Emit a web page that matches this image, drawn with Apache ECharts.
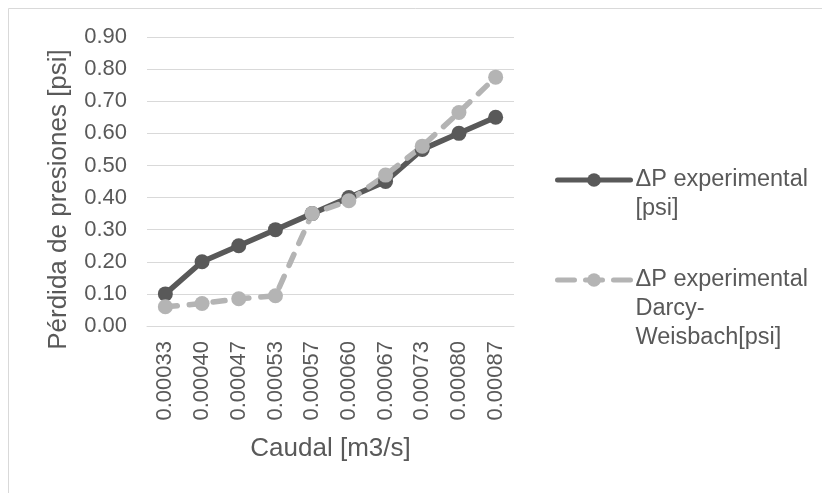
<!DOCTYPE html>
<html>
<head>
<meta charset="utf-8">
<script src="https://cdn.jsdelivr.net/npm/echarts@6/dist/echarts.min.js"></script>
<style>
html,body{margin:0;padding:0;background:#fff;}
#chart{width:822px;height:493px;}
</style>
</head>
<body>
<div id="chart"></div>
<script>
const categories = ['0.00033','0.00040','0.00047','0.00053','0.00057','0.00060','0.00067','0.00073','0.00080','0.00087'];
const experimental = [0.10, 0.20, 0.25, 0.30, 0.35, 0.40, 0.45, 0.55, 0.60, 0.65];
const darcy = [0.06, 0.07, 0.085, 0.094, 0.35, 0.39, 0.47, 0.56, 0.665, 0.775];
const seriesNames = ['ΔP experimental [psi]', 'ΔP experimental Darcy-Weisbach[psi]'];
const legendLines = [['ΔP experimental', '[psi]'], ['ΔP experimental', 'Darcy-', 'Weisbach[psi]']];
const yAxisTitle = 'Pérdida de presiones [psi]';
const xAxisTitle = 'Caudal [m3/s]';

const FONT = 'Liberation Sans, Arial, sans-serif';
const TXT = '#595959';
const DARK = '#595959';
const LIGHT = '#b4b4b4';
const LH = 29;
const LEG_FS = 23.5;

// prepend (n-1) blank lines so the first text line sits level with the legend icon
function legendText(lines) {
  return new Array(lines.length - 1).fill('').concat(lines).join('\n');
}
function legendTop(lines, iconCenter) {
  return iconCenter - (2 * lines.length - 1) * LH / 2;
}

const chart = echarts.init(document.getElementById('chart'), null, {renderer: 'canvas'});
chart.setOption({
  animation: false,
  backgroundColor: '#ffffff',
  graphic: [{
    type: 'rect', silent: true,
    shape: {x: 8.5, y: 8.5, width: 900, height: 600},
    style: {fill: 'none', stroke: '#d9d9d9', lineWidth: 1}
  }],
  grid: {left: 147, right: 308, top: 37, bottom: 167, containLabel: false},
  legend: [
    {
      left: 555, top: legendTop(legendLines[0], 180), orient: 'vertical', padding: 0,
      itemWidth: 73, itemHeight: 17, itemGap: 0,
      data: [seriesNames[0]],
      formatter: function () { return legendText(legendLines[0]); },
      lineStyle: {width: 5},
      textStyle: {fontFamily: FONT, fontSize: LEG_FS, color: TXT, lineHeight: LH}
    },
    {
      left: 555, top: legendTop(legendLines[1], 280), orient: 'vertical', padding: 0,
      itemWidth: 73, itemHeight: 17, itemGap: 0,
      data: [seriesNames[1]],
      formatter: function () { return legendText(legendLines[1]); },
      lineStyle: {width: 5, type: [17, 11]},
      textStyle: {fontFamily: FONT, fontSize: LEG_FS, color: TXT, lineHeight: LH}
    }
  ],
  xAxis: {
    type: 'category',
    data: categories,
    boundaryGap: true,
    axisLine: {show: true, lineStyle: {color: '#d9d9d9', width: 1}},
    axisTick: {show: false},
    axisLabel: {rotate: 90, margin: 15, interval: 0, fontFamily: FONT, fontSize: 22, color: TXT},
    name: xAxisTitle,
    nameLocation: 'middle',
    nameGap: 110,
    nameTextStyle: {fontFamily: FONT, fontSize: 26, color: TXT}
  },
  yAxis: {
    type: 'value',
    min: 0, max: 0.9, interval: 0.1,
    axisLine: {show: false},
    axisTick: {show: false},
    splitLine: {show: true, lineStyle: {color: '#d9d9d9', width: 1}},
    axisLabel: {margin: 20, fontFamily: FONT, fontSize: 22, color: TXT,
      formatter: function (v) { return v.toFixed(2); }},
    name: yAxisTitle,
    nameLocation: 'middle',
    nameGap: 75,
    nameTextStyle: {fontFamily: FONT, fontSize: 26, color: TXT, padding: [0, 36, 0, 0]}
  },
  series: [
    {
      name: seriesNames[0], type: 'line', data: experimental,
      symbol: 'circle', symbolSize: 15,
      lineStyle: {color: DARK, width: 5.5, cap: 'round', join: 'round'},
      itemStyle: {color: DARK}
    },
    {
      name: seriesNames[1], type: 'line', data: darcy,
      symbol: 'circle', symbolSize: 15,
      lineStyle: {color: LIGHT, width: 5.5, type: [12, 12], cap: 'round', join: 'round'},
      itemStyle: {color: LIGHT}
    }
  ]
});
</script>
</body>
</html>
